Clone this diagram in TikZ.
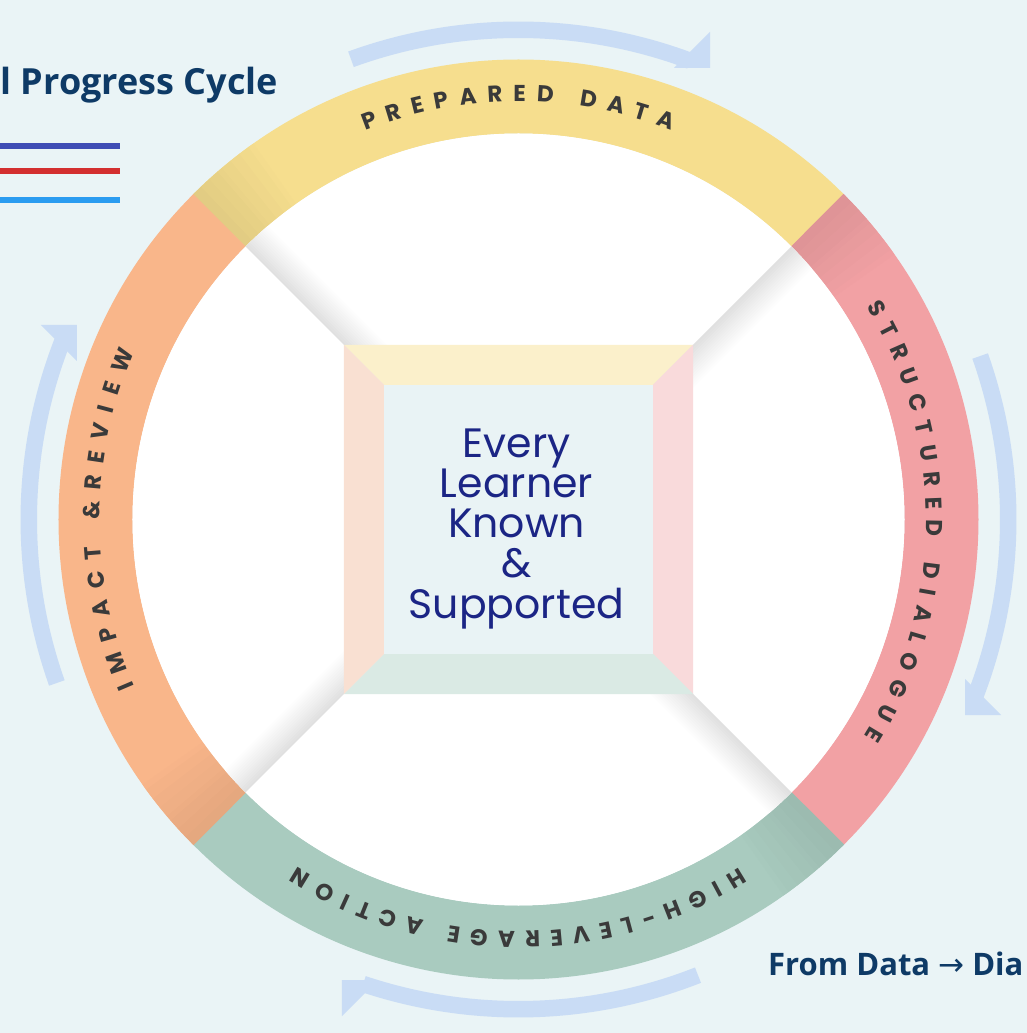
\documentclass[tikz,border=0pt]{standalone}
\usepackage{fontspec}
\usetikzlibrary{decorations.text}
\newfontfamily\geo{Poppins}
\newfontfamily\osans{Open Sans}
\newfontfamily\djv{DejaVu Sans}
\definecolor{bg}{HTML}{EAF4F6}
\definecolor{arrowc}{HTML}{C9DCF5}
\definecolor{yel}{HTML}{F6DE8E}
\definecolor{pnk}{HTML}{F2A1A4}
\definecolor{grn}{HTML}{A9CBBF}
\definecolor{org}{HTML}{F9B68A}
\definecolor{fyel}{HTML}{FBF0CB}
\definecolor{fpnk}{HTML}{F9DADB}
\definecolor{fgrn}{HTML}{DAEAE4}
\definecolor{forg}{HTML}{F9E0D2}
\definecolor{finner}{HTML}{E9F3F5}
\definecolor{ringtext}{HTML}{3A3A3A}
\definecolor{navy}{HTML}{1B2585}
\definecolor{titlec}{HTML}{0E3A66}
\definecolor{lineA}{HTML}{3F4DB5}
\definecolor{lineB}{HTML}{D32F2F}
\definecolor{lineC}{HTML}{2A9CF0}
% band from angle #1 to #2, head: tip #3, leg ends #4 and #5
\newcommand{\cyclearrow}[5]{%
  \fill[arrowc] (#1:481.5) arc[start angle=#1, end angle=#2, radius=481.5]
     -- (#2:498) arc[start angle=#2, end angle=#1, radius=498] -- cycle;
  \fill[arrowc] #3 -- #4 -- #5 -- cycle;}
\newcommand{\ringseg}[3]{%
  \fill[#3] (#1:460) arc[start angle=#1, end angle=#2, radius=460]
     -- (#2:386) arc[start angle=#2, end angle=#1, radius=386] -- cycle;
  \foreach \i in {0,...,13}{%
    \pgfmathtruncatemacro\pct{92+\i*8/14}%
    \pgfmathsetmacro\aa{#1-\i*0.7+0.05}%
    \pgfmathsetmacro\ab{#1-(\i+1)*0.7}%
    \fill[#3!\pct!black] (\aa:460) arc[start angle=\aa, end angle=\ab, radius=460]
       -- (\ab:386) arc[start angle=\ab, end angle=\aa, radius=386] -- cycle;}}
\newcommand{\innershadow}[1]{%
  \begin{scope}[rotate=#1]
    \clip (0,0) circle[radius=386];
    \foreach \i in {0,...,14}{%
      \pgfmathsetmacro\g{12-12*\i/15}%
      \fill[black!\g] (0,-\i*2) rectangle (400,-\i*2-2.3);}
  \end{scope}}
\tikzset{
  ringlabel/.style={decorate, decoration={text along path, text align=fit to path, text color=ringtext}},
  cline/.style={line width=6pt},
  centertext/.style={text=navy, font=\geo\fontsize{41}{40}\selectfont, anchor=base, inner sep=0pt}
}
\begin{document}
\begin{tikzpicture}[x=1pt,y=1pt]
\fill[bg] (-518.5,-513.5) rectangle (508.5,519.5);
\useasboundingbox (-518.5,-513.5) rectangle (508.5,519.5);

% cycle arrows (clockwise)
\cyclearrow{110}{69.5}{(191.5,451.5)}{(191.5,487.5)}{(155.5,451.5)}
\cyclearrow{19.5}{-21}{(446.5,-195.5)}{(446.5,-159.5)}{(482.5,-195.5)}
\cyclearrow{-68.5}{-108.5}{(-176.5,-460.5)}{(-140.5,-460.5)}{(-176.5,-496.5)}
\cyclearrow{199.5}{158.7}{(-441.5,194.5)}{(-477.5,194.5)}{(-441.5,158.5)}

% ring
\ringseg{135}{45}{yel}
\ringseg{45}{-45}{pnk}
\ringseg{-45}{-135}{grn}
\ringseg{225}{135}{org}

% white disc
\fill[white] (0,0) circle[radius=386];
\innershadow{135}
\innershadow{45}
\innershadow{-45}
\innershadow{-135}

% square frame
\fill[fyel] (-174.5,174.5) -- (174.5,174.5) -- (134.5,134.5) -- (-134.5,134.5) -- cycle;
\fill[fpnk] (174.5,174.5) -- (174.5,-174.5) -- (134.5,-134.5) -- (134.5,134.5) -- cycle;
\fill[fgrn] (174.5,-174.5) -- (-174.5,-174.5) -- (-134.5,-134.5) -- (134.5,-134.5) -- cycle;
\fill[forg] (-174.5,-174.5) -- (-174.5,174.5) -- (-134.5,134.5) -- (-134.5,-134.5) -- cycle;
\fill[finner] (-134.5,-134.5) rectangle (134.5,134.5);

% ring labels
\path[ringlabel, decoration={text={|\geo\bfseries\fontsize{23}{23}\selectfont|PREPARED DATA}}]
  (111.5:418) arc[start angle=111.5, end angle=68.5, radius=418];
\path[ringlabel, decoration={text={|\geo\bfseries\fontsize{23}{23}\selectfont|STRUCTURED DIALOGUE}}]
  (31.5:408) arc[start angle=31.5, end angle=-32, radius=408];
\path[ringlabel, decoration={text={|\geo\bfseries\fontsize{23}{23}\selectfont|HIGH-LEVERAGE ACTION}}]
  (-57.5:412) arc[start angle=-57.5, end angle=-122.5, radius=412];
\path[ringlabel, decoration={text={|\geo\bfseries\fontsize{23}{23}\selectfont|IMPACT {\&}REVIEW}}]
  (203.5:419) arc[start angle=203.5, end angle=156.5, radius=419];

% center text
\node[centertext] (l1) at (-2,61.5) {Every};
\node[centertext] (l2) at (-2,21.5) {Learner};
\node[centertext] (l3) at (-2,-18.5) {Known};
\node[centertext] (l4) at (-2,-58.5) {\&};
\node[centertext] (l5) at (-2,-98.5) {Supported};

% title and legend lines
\node[anchor=base west, inner sep=0pt, text=titlec, font=\osans\bfseries\fontsize{36}{36}\selectfont] (title) at (-518,424.5) {l Progress Cycle};
\coordinate (la0) at (-518.5,373.5); \coordinate (la1) at (-398.5,373.5);
\coordinate (lb0) at (-518.5,348.5); \coordinate (lb1) at (-398.5,348.5);
\coordinate (lc0) at (-518.5,319.5); \coordinate (lc1) at (-398.5,319.5);
\draw[cline, lineA] (la0) -- (la1);
\draw[cline, lineB] (lb0) -- (lb1);
\draw[cline, lineC] (lc0) -- (lc1);

\node[anchor=base west, inner sep=0pt, text=titlec, font=\osans\bfseries\fontsize{31}{31}\selectfont] (foot) at (249.5,-455.5) {From Data {\djv\mdseries →} Dia};
\end{tikzpicture}
\end{document}
